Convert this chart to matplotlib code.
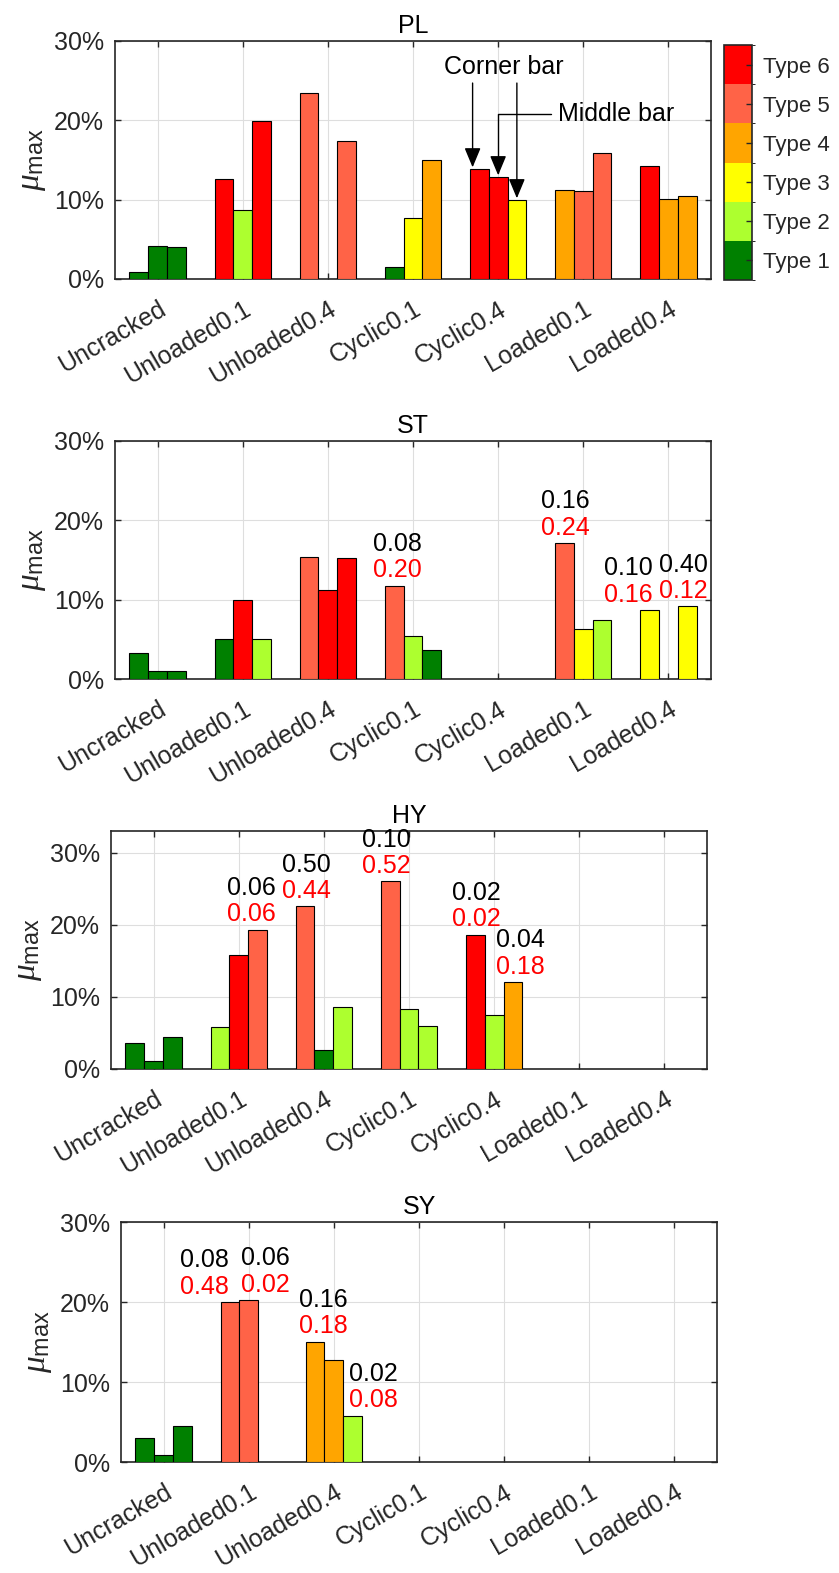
import matplotlib
matplotlib.use('Agg')
import matplotlib.pyplot as plt
import matplotlib.transforms as mtrans
from matplotlib.colors import ListedColormap, BoundaryNorm
from matplotlib.colorbar import ColorbarBase
import numpy as np

plt.rcParams['font.family'] = ['Liberation Sans', 'DejaVu Sans']
plt.rcParams['mathtext.fontset'] = 'custom'
plt.rcParams['mathtext.rm'] = 'Liberation Sans'
plt.rcParams['mathtext.it'] = 'Liberation Serif:italic'

cases = ['Uncracked', 'Unloaded0.1', 'Unloaded0.4', 'Cyclic0.1',
         'Cyclic0.4', 'Loaded0.1', 'Loaded0.4']
type_names = ['Type 1', 'Type 2', 'Type 3', 'Type 4', 'Type 5', 'Type 6']
type_colors = ['#008000', '#ADFF2F', '#FFFF00', '#FFA500', '#FF6347', '#FF0000']

# mu_max in %, three bars per case; type 0 = no bar
pl_vals = [[0.93, 4.2, 4.05], [12.6, 8.7, 19.9], [23.4, 0, 17.45], [1.5, 7.7, 14.95],
           [13.9, 12.9, 10.0], [11.26, 11.1, 15.85], [14.2, 10.05, 10.4]]
pl_types = [[1, 1, 1], [6, 2, 6], [5, 0, 5], [1, 3, 4], [6, 6, 3], [4, 5, 5], [6, 4, 4]]

st_vals = [[3.3, 1.05, 1.05], [5.06, 9.9, 5.06], [15.36, 11.2, 15.25], [11.76, 5.4, 3.6],
           [0, 0, 0], [17.15, 6.3, 7.5], [8.7, 0, 9.16]]
st_types = [[1, 1, 1], [1, 6, 2], [5, 6, 6], [5, 2, 1], [0, 0, 0], [5, 3, 2], [3, 0, 3]]

hy_vals = [[3.64, 1.1, 4.46], [5.84, 15.74, 19.33], [22.55, 2.58, 8.6], [26.0, 8.38, 5.9],
           [18.64, 7.55, 12.06], [0, 0, 0], [0, 0, 0]]
hy_types = [[1, 1, 1], [2, 6, 5], [5, 1, 2], [5, 2, 2], [6, 2, 4], [0, 0, 0], [0, 0, 0]]

sy_vals = [[3.04, 0.92, 4.46], [20.0, 20.25, 0], [15.04, 12.75, 5.8], [0, 0, 0],
           [0, 0, 0], [0, 0, 0], [0, 0, 0]]
sy_types = [[1, 1, 1], [5, 5, 0], [4, 4, 2], [0, 0, 0], [0, 0, 0], [0, 0, 0], [0, 0, 0]]

# (case index, bar index, x shift, black value, red value)
pl_labels = []
st_labels = [(3, 0, 0.04, '0.08', '0.20'), (5, 0, 0.01, '0.16', '0.24'),
             (6, 0, -0.25, '0.10', '0.16'), (6, 2, -0.04, '0.40', '0.12')]
hy_labels = [(1, 2, -0.07, '0.06', '0.06'), (2, 0, 0.02, '0.50', '0.44'),
             (3, 0, -0.05, '0.10', '0.52'), (4, 0, 0.01, '0.02', '0.02'),
             (4, 2, 0.09, '0.04', '0.18')]
sy_labels = [(1, 0, -0.30, '0.08', '0.48'), (1, 1, 0.20, '0.06', '0.02'),
             (2, 0, 0.10, '0.16', '0.18'), (2, 2, 0.24, '0.02', '0.08')]

panels = [('PL', pl_vals, pl_types, pl_labels, 30),
          ('ST', st_vals, st_types, st_labels, 30),
          ('HY', hy_vals, hy_types, hy_labels, 33),
          ('SY', sy_vals, sy_types, sy_labels, 30)]
rects = [(115, 41, 711, 279), (115, 441, 711, 679),
         (111, 831, 707, 1069), (121, 1222, 717, 1462)]

W, H = 839, 1573
fig = plt.figure(figsize=(W / 100, H / 100), dpi=100)
grey = '#262626'
bw = 0.22
axes = []

for (name, vals, types, labels, ytop), (l, t, r, b) in zip(panels, rects):
    ax = fig.add_axes([l / W, 1 - b / H, (r - l) / W, (b - t) / H])
    axes.append(ax)
    vals = np.array(vals)
    types = np.array(types)
    for j in range(3):
        x = np.arange(1, 8) + (j - 1) * bw
        m = types[:, j] > 0
        cols = [type_colors[k - 1] for k in types[m, j]]
        ax.bar(x[m], vals[m, j], width=bw, color=cols, edgecolor='black',
               linewidth=0.8, zorder=3)

    for g, j, dx, top, bot in labels:
        x = g + 1 + (j - 1) * bw + dx
        h = vals[g, j]
        ax.annotate(bot, (x, h), xytext=(0, 11), textcoords='offset points',
                    ha='center', va='center', fontsize=18, color='#FF0000')
        ax.annotate(top, (x, h), xytext=(0, 30), textcoords='offset points',
                    ha='center', va='center', fontsize=18, color='black')

    ax.set_xlim(0.5, 7.5)
    ax.set_ylim(0, ytop)
    ax.set_yticks([0, 10, 20, 30])
    ax.set_yticklabels(['0%', '10%', '20%', '30%'])
    ax.set_xticks(range(1, 8))
    ax.set_xticklabels(cases, rotation=30, ha='right', va='top',
                       rotation_mode='anchor')
    off = mtrans.ScaledTranslation(14 / 100, 0, fig.dpi_scale_trans)
    for lab in ax.get_xticklabels():
        lab.set_transform(lab.get_transform() + off)
    ax.tick_params(direction='in', length=4.5, width=1.0, top=True, right=True,
                   labelsize=18, colors=grey, pad=8)
    ax.tick_params(axis='x', pad=13)
    ax.grid(True, color='#dedede', linewidth=0.8)
    ax.set_axisbelow(True)
    for s in ax.spines.values():
        s.set_linewidth(1.2)
        s.set_color(grey)
    ax.set_title(name, fontsize=18, pad=6)
    ax.set_ylabel(r'$\mu_{\mathrm{max}}$', fontsize=24, color=grey, labelpad=4)

# PL annotations: corner and middle bars of Cyclic0.4
ax = axes[0]
pv = np.array(pl_vals)
arr = dict(arrowstyle='-|>,head_length=0.6,head_width=0.25', color='black',
           lw=1.0, mutation_scale=20, shrinkA=0, shrinkB=1)
for j, dx in [(0, -0.08), (2, 0.0)]:
    x = 5 + (j - 1) * bw + dx
    ax.annotate('', xy=(x, pv[4, j]), xytext=(x, 24.7), arrowprops=arr)
ax.text(5.07, 26.7, 'Corner bar', ha='center', va='center', fontsize=18)
marr = dict(arr, connectionstyle='angle,angleA=0,angleB=90,rad=0', shrinkA=3)
ax.annotate('Middle bar', xy=(5.0, pv[4, 1]), xytext=(5.70, 20.8),
            ha='left', va='center', fontsize=18, arrowprops=marr)

# type colour legend
cax = fig.add_axes([724 / W, 1 - 280 / H, 28 / W, 235 / H])
cb = ColorbarBase(cax, cmap=ListedColormap(type_colors),
                  norm=BoundaryNorm(np.arange(0.5, 7.5), 6), ticks=range(1, 7))
cb.set_ticklabels(type_names)
cb.outline.set_linewidth(1.2)
cb.outline.set_edgecolor(grey)
cax.tick_params(direction='in', length=4, width=1.0, labelsize=16, colors=grey, pad=8)

fig.savefig('out.png', dpi=100)
